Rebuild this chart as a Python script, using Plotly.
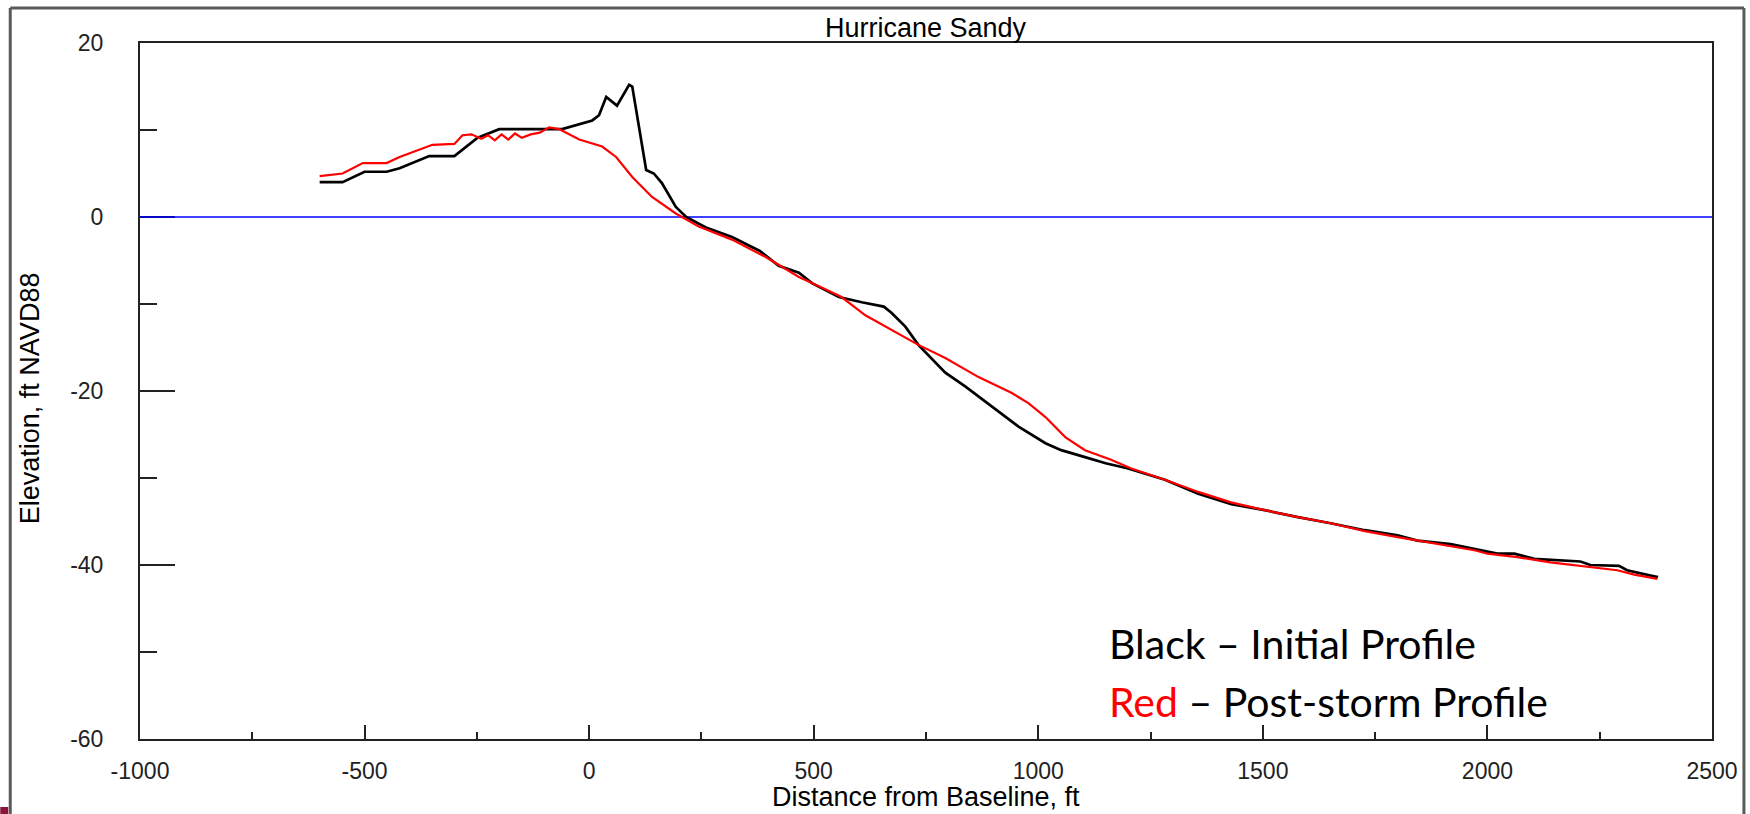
import plotly.graph_objects as go

# ---- data ----
initial_x = [-600, -549, -500, -451, -422, -356, -300, -249, -200, -150, -100, -60, 7, 22, 38, 62, 89, 96,
             127, 144, 162, 193, 216, 260, 318, 380, 422, 467, 496, 556, 607, 656, 673, 704, 733, 793,
             838, 896, 956, 1016, 1051, 1104, 1150, 1200, 1282, 1356, 1430, 1504, 1578, 1651, 1727, 1800,
             1844, 1918, 1971, 2022, 2060, 2104, 2207, 2229, 2293, 2311, 2371, 2380]
initial_y = [4.0, 4.0, 5.2, 5.2, 5.6, 7.0, 7.0, 9.1, 10.1, 10.1, 10.1, 10.1, 11.1, 11.7, 13.8, 12.8, 15.2, 15.0,
             5.4, 5.0, 3.9, 1.15, 0.0, -1.2, -2.3, -3.9, -5.6, -6.4, -7.6, -9.2, -9.8, -10.3, -11.0, -12.6, -14.7, -17.9,
             -19.5, -21.8, -24.1, -26.0, -26.8, -27.6, -28.3, -28.9, -30.2, -31.8, -33.0, -33.7, -34.5, -35.2, -36.0, -36.6,
             -37.2, -37.6, -38.2, -38.7, -38.7, -39.3, -39.6, -40.0, -40.1, -40.6, -41.3, -41.4]

post_x = [-600, -549, -504, -451, -422, -349, -300, -282, -262, -240, -225, -210, -195, -180, -165, -150, -130,
          -110, -89, -67, -22, 29, 60, 96, 140, 193, 244, 318, 393, 467, 496, 562, 615, 667, 733, 793, 867,
          940, 978, 1016, 1060, 1104, 1162, 1207, 1282, 1356, 1429, 1504, 1578, 1651, 1727, 1800, 1844, 1918,
          1971, 2000, 2067, 2140, 2216, 2289, 2327, 2378]
post_y = [4.7, 5.0, 6.2, 6.2, 6.9, 8.3, 8.4, 9.4, 9.5, 9.0, 9.4, 8.8, 9.5, 8.9, 9.6, 9.1, 9.5,
          9.7, 10.3, 10.1, 8.9, 8.1, 6.9, 4.6, 2.3, 0.4, -1.1, -2.6, -4.6, -6.9, -7.6, -9.2, -11.3, -12.8, -14.7, -16.2, -18.4,
          -20.2, -21.4, -23.0, -25.3, -26.8, -27.9, -28.9, -30.2, -31.6, -32.8, -33.7, -34.5, -35.2, -36.1, -36.8, -37.2, -37.8,
          -38.3, -38.7, -39.1, -39.7, -40.2, -40.6, -41.1, -41.6]

datum_x = [-1000, 2500]
datum_y = [0, 0]

x_ticks = [-1000, -500, 0, 500, 1000, 1500, 2000, 2500]
x_tick_labels = ["-1000", "-500", "0", "500", "1000", "1500", "2000", "2500"]
y_ticks = [-60, -40, -20, 0, 20]
y_tick_labels = ["-60", "-40", "-20", "0", "20"]

title_text = "Hurricane Sandy"
x_title = "Distance from Baseline, ft"
y_title = "Elevation, ft NAVD88"
legend_line1 = "Black – Initial Profile"
legend_line2 = "<span style='color:#ff0000'>Red</span> – Post-storm Profile"

# ---- figure ----
W, H = 1750, 814
L, R, T, B = 140, 35, 43, 75
pw, ph = W - L - R, H - T - B

def px(xp):
    return (xp - L) / pw

def py(yp):
    return (H - B - yp) / ph

fig = go.Figure()
fig.add_trace(go.Scatter(x=datum_x, y=datum_y, mode="lines",
                         line=dict(color="#0000ff", width=1.6), hoverinfo="skip"))
fig.add_trace(go.Scatter(x=initial_x, y=initial_y, mode="lines",
                         line=dict(color="#000000", width=2.7)))
fig.add_trace(go.Scatter(x=post_x, y=post_y, mode="lines",
                         line=dict(color="#ff0000", width=2.2)))

axis_font = dict(family="Liberation Sans, Arial, sans-serif", size=23, color="#222222")

fig.update_layout(
    width=W, height=H,
    margin=dict(l=L, r=R, t=T, b=B),
    paper_bgcolor="white", plot_bgcolor="white",
    showlegend=False,
    xaxis=dict(range=[-1000, 2500], tickvals=x_ticks, ticktext=x_tick_labels, ticks="inside", ticklen=14,
               tickwidth=1.5, tickcolor="#222", showline=True, linecolor="#222", linewidth=2,
               mirror=True, showgrid=False, zeroline=False, tickfont=axis_font,
               ticklabelstandoff=10, layer="below traces",
               minor=dict(dtick=250, ticks="inside", ticklen=7, tickwidth=1.5, tickcolor="#222",
                          showgrid=False)),
    yaxis=dict(range=[-60, 20], tickvals=y_ticks, ticktext=y_tick_labels, ticks="inside", ticklen=35,
               tickwidth=1.5, tickcolor="#222", showline=True, linecolor="#222", linewidth=2,
               mirror=True, showgrid=False, zeroline=False, tickfont=axis_font,
               ticklabelstandoff=30, layer="below traces",
               minor=dict(dtick=10, ticks="inside", ticklen=17, tickwidth=1.5, tickcolor="#222",
                          showgrid=False)),
)

title_font = dict(family="Liberation Sans, Arial, sans-serif", size=27, color="#000000")
legend_font = dict(family="Lato, Carlito, sans-serif", size=41, color="#000000")

fig.add_annotation(text=title_text, xref="paper", yref="paper", x=0.5, y=py(28),
                   xanchor="center", yanchor="middle", showarrow=False, font=title_font)
fig.add_annotation(text=x_title, xref="paper", yref="paper", x=0.5, y=py(797),
                   xanchor="center", yanchor="middle", showarrow=False, font=title_font)
fig.add_annotation(text=y_title, xref="paper", yref="paper", x=px(30), y=py(398),
                   xanchor="center", yanchor="middle", textangle=-90, showarrow=False, font=title_font)
fig.add_annotation(text=legend_line1, xref="paper", yref="paper", x=px(1109), y=py(643),
                   xanchor="left", yanchor="middle", showarrow=False, font=legend_font)
fig.add_annotation(text=legend_line2, xref="paper", yref="paper", x=px(1109), y=py(701),
                   xanchor="left", yanchor="middle", showarrow=False, font=legend_font)

# outer frame of the original window
frame = dict(color="#5a5a5a", width=3)
fig.add_shape(type="line", xref="paper", yref="paper", x0=px(10), x1=px(10), y0=py(8), y1=py(814), line=frame)
fig.add_shape(type="line", xref="paper", yref="paper", x0=px(10), x1=px(1747), y0=py(8), y1=py(8), line=frame)
fig.add_shape(type="line", xref="paper", yref="paper", x0=px(1747), x1=px(1747), y0=py(8), y1=py(814), line=frame)
fig.add_shape(type="rect", xref="paper", yref="paper", x0=px(0), x1=px(8), y0=py(814), y1=py(807),
              line=dict(width=0), fillcolor="#8a1538")

fig.write_html("out.html")
